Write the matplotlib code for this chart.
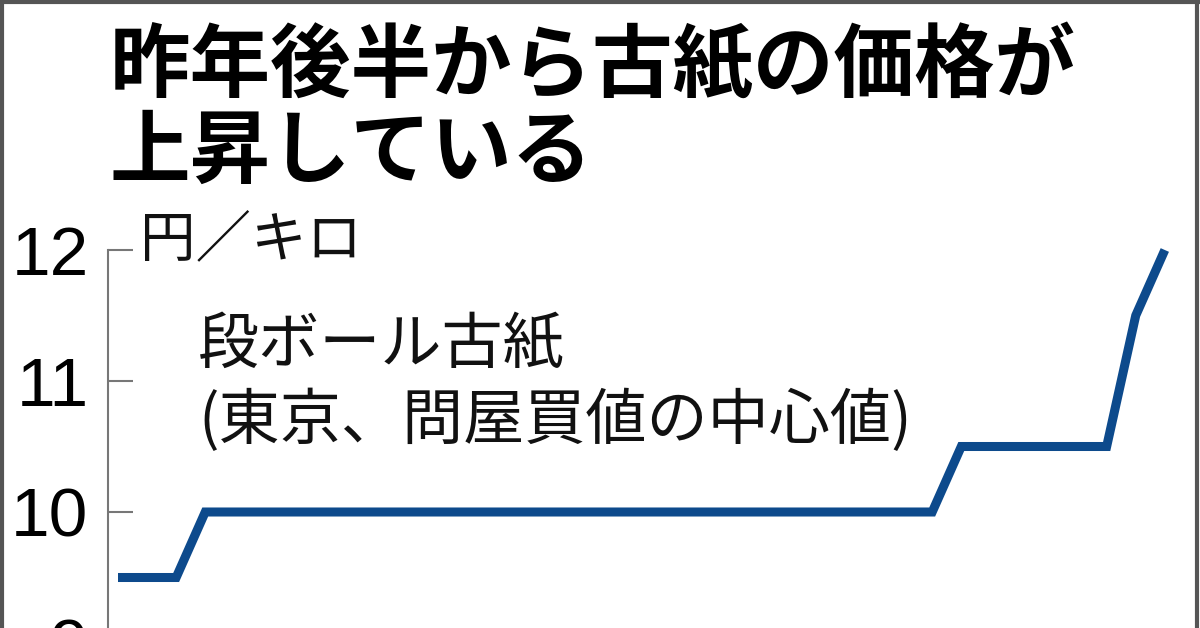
import matplotlib
matplotlib.use('Agg')
import matplotlib.pyplot as plt
from matplotlib.lines import Line2D

plt.rcParams['font.family'] = ['Noto Sans CJK JP', 'DejaVu Sans']

# monthly price, 段ボール古紙 (yen per kg)
months = list(range(37))
price = [9.5, 9.5, 9.5, 10, 10, 10, 10, 10, 10, 10,
         10, 10, 10, 10, 10, 10, 10, 10, 10, 10,
         10, 10, 10, 10, 10, 10, 10, 10, 10, 10.5,
         10.5, 10.5, 10.5, 10.5, 10.5, 11.5, 12]
yticks = [9, 10, 11, 12]

W, H = 1200, 628
fig = plt.figure(figsize=(12, 6.28), dpi=100)

# axes placed in pixels: y=12 at 250px from top, 131 px per yen
y_lo, y_hi = 8.9, 12
px_per = 131
top_px = 250
bot_px = top_px + (y_hi - y_lo) * px_per
left_px, right_px = 108, 1175
ax = fig.add_axes([left_px / W, 1 - bot_px / H, (right_px - left_px) / W, (bot_px - top_px) / H])

ax.plot(months, price, color='#0d4a8c', lw=6.5, solid_joinstyle='miter',
        solid_capstyle='butt', clip_on=False)
ax.set_xlim(-0.344, 36.35)
ax.set_ylim(y_lo, y_hi)

for s in ['top', 'right', 'bottom']:
    ax.spines[s].set_visible(False)
ax.spines['left'].set_color('#777777')
ax.spines['left'].set_linewidth(1.5)
ax.spines['left'].set_bounds(y_lo, y_hi)
ax.set_xticks([])
ax.set_yticks(yticks)
ax.set_yticklabels([str(v) for v in yticks],
                   family=['Liberation Sans Narrow', 'Liberation Sans', 'DejaVu Sans'],
                   fontsize=50)
ax.tick_params(axis='y', direction='in', length=18, width=1.5, color='#777777', pad=14)

fig.text(140 / W, 1 - 240 / H, '円／キロ', fontsize=40, va='center', ha='left', color='#111111')
fig.text(198 / W, 1 - 345 / H, '段ボール古紙', fontsize=44, va='center', ha='left', color='#111111')
fig.text(198 / W, 1 - 421 / H, '(東京、問屋買値の中心値)', fontsize=44, va='center', ha='left', color='#111111')

fig.text(110 / W, 1 - 68 / H, '昨年後半から古紙の価格が', fontsize=58, fontweight='bold',
         va='center', ha='left', color='black')
fig.text(110 / W, 1 - 153 / H, '上昇している', fontsize=58, fontweight='bold',
         va='center', ha='left', color='black')

# outer frame of the cropped graphic
fc = '#555555'
fig.add_artist(Line2D([1.5 / W, 1.5 / W], [0, 1], transform=fig.transFigure, color=fc, lw=3))
fig.add_artist(Line2D([0, 1], [1 - 1.5 / H, 1 - 1.5 / H], transform=fig.transFigure, color=fc, lw=3))
fig.add_artist(Line2D([1197 / W, 1197 / W], [0, 1], transform=fig.transFigure, color=fc, lw=3))

fig.savefig('out.png', dpi=100)
